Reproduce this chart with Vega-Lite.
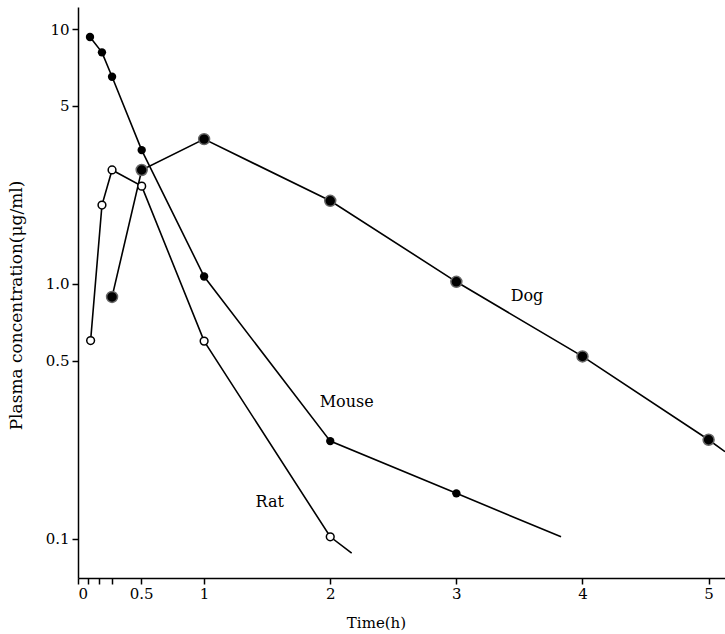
{
  "$schema": "https://vega.github.io/schema/vega-lite/v6.json",
  "width": 647,
  "height": 571,
  "autosize": {"type": "none"},
  "padding": {"left": 78, "top": 7, "right": 0, "bottom": 56},
  "background": "white",
  "config": {
    "view": {"stroke": null},
    "font": "DejaVu Serif",
    "axis": {"grid": false, "domainColor": "black", "tickColor": "black", "labelColor": "black", "titleColor": "black", "labelFont": "DejaVu Serif", "titleFont": "DejaVu Serif", "labelFontSize": 15, "titleFontSize": 15, "titleFontWeight": "normal", "domainWidth": 1.5, "tickWidth": 1.5}
  },
  "datasets": {
    "pk": [
      {"species": "Mouse", "time": 0.095, "conc": 9.3, "marker": true},
      {"species": "Mouse", "time": 0.19, "conc": 8.1, "marker": true},
      {"species": "Mouse", "time": 0.27, "conc": 6.5, "marker": true},
      {"species": "Mouse", "time": 0.505, "conc": 3.35, "marker": true},
      {"species": "Mouse", "time": 1, "conc": 1.07, "marker": true},
      {"species": "Mouse", "time": 2, "conc": 0.242, "marker": true},
      {"species": "Mouse", "time": 3, "conc": 0.151, "marker": true},
      {"species": "Mouse", "time": 3.83, "conc": 0.102, "marker": false},
      {"species": "Rat", "time": 0.1, "conc": 0.6, "marker": true},
      {"species": "Rat", "time": 0.19, "conc": 2.04, "marker": true},
      {"species": "Rat", "time": 0.27, "conc": 2.8, "marker": true},
      {"species": "Rat", "time": 0.505, "conc": 2.42, "marker": true},
      {"species": "Rat", "time": 1, "conc": 0.597, "marker": true},
      {"species": "Rat", "time": 2, "conc": 0.102, "marker": true},
      {"species": "Rat", "time": 2.17, "conc": 0.088, "marker": false},
      {"species": "Dog", "time": 0.27, "conc": 0.89, "marker": true},
      {"species": "Dog", "time": 0.505, "conc": 2.8, "marker": true},
      {"species": "Dog", "time": 1, "conc": 3.7, "marker": true},
      {"species": "Dog", "time": 2, "conc": 2.12, "marker": true},
      {"species": "Dog", "time": 3, "conc": 1.02, "marker": true},
      {"species": "Dog", "time": 4, "conc": 0.52, "marker": true},
      {"species": "Dog", "time": 5, "conc": 0.245, "marker": true},
      {"species": "Dog", "time": 5.13, "conc": 0.22, "marker": false}
    ],
    "labels": [
      {"text": "Dog", "time": 3.56, "conc": 0.897},
      {"text": "Mouse", "time": 2.13, "conc": 0.344},
      {"text": "Rat", "time": 1.52, "conc": 0.14}
    ]
  },
  "layer": [
    {
      "data": {"name": "pk"},
      "mark": {"type": "line", "color": "black", "strokeWidth": 1.6, "clip": true},
      "encoding": {
        "x": {"field": "time", "type": "quantitative", "scale": {"domain": [0, 5.13], "nice": false, "zero": false},
          "axis": {"values": [0, 0.083, 0.167, 0.27, 0.5, 1, 2, 3, 4, 5], "labelExpr": "datum.value == 0 ? '0' : datum.value == 0.5 ? '0.5' : datum.value >= 1 ? format(datum.value, 'd') : ''", "tickSize": 6, "labelPadding": 2, "title": "Time(h)", "titleX": 298, "titlePadding": 14}},
        "y": {"field": "conc", "type": "quantitative", "scale": {"type": "log", "domain": [0.0703, 12.2], "nice": false},
          "axis": {"values": [0.1, 0.5, 1, 5, 10], "labelExpr": "datum.value == 1 ? '1.0' : format(datum.value, '')", "tickSize": 6, "labelPadding": 3, "title": "Plasma concentration(μg/ml)", "titleY": 298, "titlePadding": 20, "titleFontSize": 17}},
        "detail": {"field": "species"}
      }
    },
    {
      "data": {"name": "pk"},
      "transform": [{"filter": "datum.marker && datum.species == 'Mouse'"}],
      "mark": {"type": "circle", "color": "black", "size": 70, "opacity": 1},
      "encoding": {
        "x": {"field": "time", "type": "quantitative"},
        "y": {"field": "conc", "type": "quantitative"}
      }
    },
    {
      "data": {"name": "pk"},
      "transform": [{"filter": "datum.marker && datum.species == 'Rat'"}],
      "mark": {"type": "point", "shape": "circle", "filled": true, "fill": "white", "stroke": "black", "strokeWidth": 1.5, "size": 60, "opacity": 1},
      "encoding": {
        "x": {"field": "time", "type": "quantitative"},
        "y": {"field": "conc", "type": "quantitative"}
      }
    },
    {
      "data": {"name": "pk"},
      "transform": [{"filter": "datum.marker && datum.species == 'Dog'"}],
      "mark": {"type": "point", "shape": "circle", "filled": true, "fill": "black", "stroke": "#666666", "strokeWidth": 1.5, "size": 120, "opacity": 1},
      "encoding": {
        "x": {"field": "time", "type": "quantitative"},
        "y": {"field": "conc", "type": "quantitative"}
      }
    },
    {
      "data": {"name": "labels"},
      "mark": {"type": "text", "font": "DejaVu Serif", "fontSize": 16, "color": "black", "align": "center", "baseline": "middle"},
      "encoding": {
        "x": {"field": "time", "type": "quantitative"},
        "y": {"field": "conc", "type": "quantitative"},
        "text": {"field": "text"}
      }
    }
  ]
}
